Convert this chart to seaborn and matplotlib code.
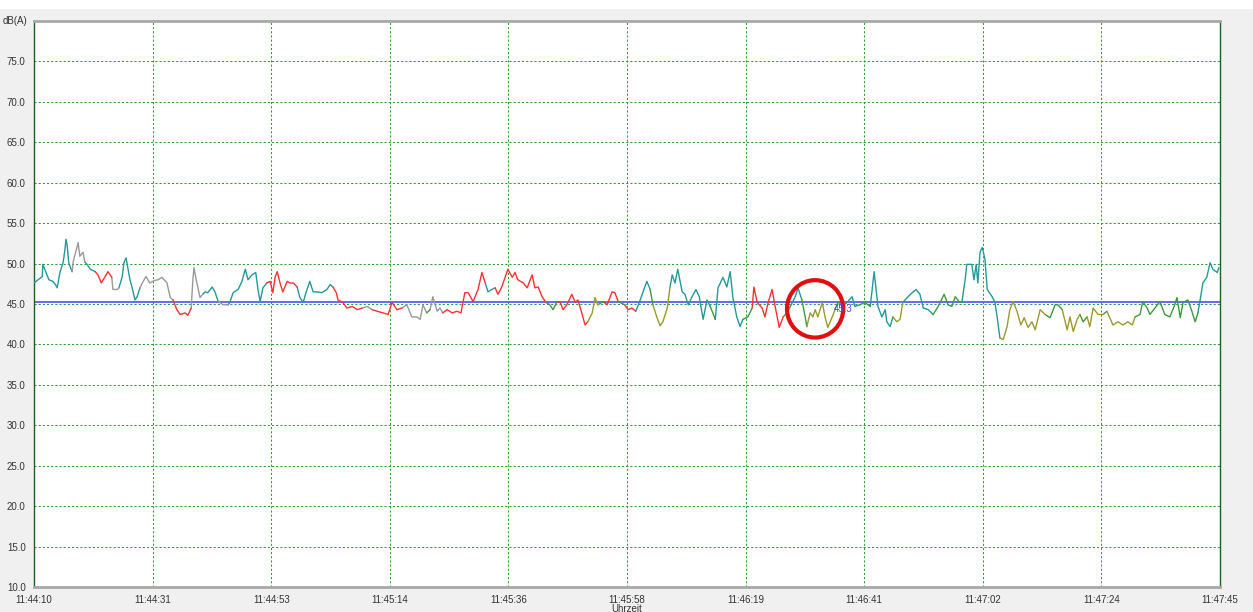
import numpy as np
import pandas as pd
import matplotlib
matplotlib.use("Agg")
import matplotlib.pyplot as plt
from matplotlib.patches import Ellipse, Rectangle
import seaborn as sns

# elapsed time in seconds since 11:44:10 and measured level in dB(A)
t_s = [
    0.0, 1.5, 1.6, 2.7, 3.4, 3.8, 4.2, 4.7, 5.3, 5.6,
    5.8, 6.0, 6.3, 6.9, 7.1, 8.0, 8.3, 8.9, 9.2, 9.6,
    10.2, 11.1, 11.6, 12.2, 12.9, 13.4, 14.1, 14.3, 15.1, 15.4,
    16.0, 16.3, 16.7, 17.0, 17.4, 17.8, 18.3, 18.7, 19.2, 19.8,
    20.3, 21.0, 21.8, 22.5, 23.2, 24.1, 24.7, 25.2, 25.9, 26.5,
    27.4, 27.9, 28.5, 28.8, 29.0, 29.4, 30.1, 30.6, 31.0, 31.5,
    32.3, 32.8, 33.4, 34.3, 35.2, 35.5, 36.1, 37.0, 37.7, 38.3,
    38.8, 39.5, 40.2, 40.6, 41.0, 41.5, 42.2, 42.8, 43.3, 43.7,
    44.1, 44.6, 45.1, 45.9, 46.4, 47.0, 47.7, 48.2, 48.8, 49.3,
    50.0, 50.6, 51.3, 52.2, 53.1, 53.7, 54.2, 54.8, 55.1, 56.0,
    56.7, 57.7, 58.6, 59.5, 60.4, 61.3, 62.2, 63.3, 64.2, 64.9,
    65.8, 66.7, 67.6, 68.5, 69.4, 70.0, 70.5, 71.2, 71.8, 72.3,
    73.1, 73.6, 74.1, 74.9, 75.8, 76.7, 77.4, 78.1, 78.7, 79.6,
    80.5, 81.2, 81.8, 82.3, 83.0, 83.6, 84.1, 84.8, 85.4, 85.9,
    86.7, 87.2, 87.7, 88.7, 89.4, 90.3, 90.8, 91.4, 92.1, 92.8,
    93.5, 94.1, 94.8, 95.4, 95.9, 96.6, 97.5, 98.1, 98.6, 99.3,
    99.9, 100.4, 101.2, 101.7, 102.2, 103.2, 103.9, 104.8, 105.3, 105.9,
    106.2, 107.1, 107.7, 108.4, 109.1, 109.9, 110.4, 111.1, 111.7, 112.2,
    112.9, 113.5, 114.0, 114.8, 115.3, 115.7, 116.2, 116.7, 117.5, 118.0,
    118.6, 119.3, 120.0, 120.6, 121.3, 122.0, 122.6, 123.5, 124.0, 124.9,
    125.6, 126.2, 126.7, 127.4, 128.0, 128.5, 129.4, 130.2, 130.5, 131.1,
    132.0, 132.5, 133.1, 133.8, 134.3, 135.1, 135.8, 136.5, 137.1, 138.0,
    138.5, 139.2, 139.8, 140.1, 140.7, 141.2, 141.6, 142.1, 142.9, 143.4,
    143.9, 144.7, 145.2, 145.8, 146.5, 147.4, 148.3, 148.8, 149.7, 150.6,
    151.2, 151.6, 152.3, 153.0, 153.7, 154.3, 154.6, 155.2, 155.7, 156.4,
    157.0, 157.5, 158.3, 159.2, 159.9, 160.6, 161.2, 162.1, 163.0, 163.9,
    165.0, 165.7, 166.4, 167.0, 167.7, 168.2, 168.8, 169.1, 170.0, 170.4,
    170.8, 171.1, 171.5, 171.9, 172.4, 172.8, 173.7, 174.2, 174.6, 175.1,
    175.7, 176.4, 176.9, 177.5, 178.2, 178.9, 179.5, 180.2, 180.9, 181.5,
    182.4, 183.3, 184.2, 185.1, 185.6, 186.4, 187.3, 187.8, 188.4, 189.1,
    189.6, 190.2, 190.9, 191.4, 192.0, 192.9, 193.8, 194.5, 195.6, 196.5,
    197.4, 198.3, 199.1, 199.6, 200.5, 201.0, 201.8, 202.3, 203.2, 204.1,
    205.0, 205.9, 206.8, 207.2, 207.8, 208.3, 209.2, 209.9, 210.5, 211.0,
    211.4, 211.9, 212.6, 213.2, 213.7, 214.5, 214.8,
]
level_db = [
    47.6, 48.4, 49.9, 48.0, 47.8, 47.5, 47.0, 48.9, 50.2, 51.7,
    53.0, 52.3, 50.1, 49.0, 50.2, 52.6, 50.9, 51.4, 50.2, 49.9,
    49.3, 49.0, 48.6, 47.6, 48.4, 49.0, 48.3, 46.8, 46.8, 47.0,
    48.4, 50.1, 50.7, 49.5, 48.0, 47.0, 45.5, 45.9, 47.0, 47.8,
    48.4, 47.6, 47.9, 48.0, 48.3, 47.6, 45.8, 45.5, 44.3, 43.7,
    43.9, 43.6, 44.5, 48.0, 49.5, 48.0, 45.8, 46.2, 46.5, 46.4,
    47.1, 46.5, 45.3, 44.9, 44.9, 45.2, 46.4, 46.8, 47.8, 49.3,
    48.0, 48.6, 48.9, 46.8, 45.3, 47.0, 47.6, 47.8, 46.4, 48.3,
    49.0, 47.6, 46.5, 47.8, 47.6, 47.6, 47.1, 45.8, 45.2, 46.4,
    47.8, 46.5, 46.5, 46.4, 46.8, 47.4, 47.1, 46.4, 45.5, 45.2,
    44.5, 44.7, 44.3, 44.5, 44.7, 44.3, 44.1, 43.9, 43.7, 45.2,
    44.3, 44.5, 44.9, 43.4, 43.4, 43.1, 44.9, 43.9, 44.3, 45.9,
    44.1, 44.5, 43.9, 44.3, 43.9, 44.1, 43.9, 46.4, 46.4, 45.3,
    46.8, 48.9, 47.6, 46.5, 46.8, 47.0, 46.2, 47.1, 48.3, 49.3,
    48.3, 48.9, 48.0, 47.6, 47.0, 48.6, 47.0, 47.1, 45.9, 45.2,
    44.9, 44.3, 45.3, 45.2, 44.3, 44.9, 46.2, 45.2, 45.5, 43.9,
    42.4, 42.8, 43.9, 45.8, 44.9, 45.3, 44.9, 46.5, 46.4, 45.3,
    45.2, 44.9, 44.3, 44.5, 44.1, 45.5, 46.5, 47.8, 46.8, 44.9,
    43.4, 42.3, 42.8, 44.5, 47.1, 48.6, 47.6, 49.3, 46.5, 46.2,
    44.9, 45.9, 46.8, 45.9, 43.1, 45.5, 44.7, 43.1, 47.0, 48.3,
    47.1, 49.0, 45.8, 43.4, 42.2, 43.1, 43.4, 44.5, 47.1, 45.2,
    44.5, 43.4, 45.2, 46.8, 44.9, 42.1, 43.4, 43.9, 44.7, 45.9,
    47.0, 45.5, 43.4, 42.2, 43.9, 43.4, 44.3, 43.4, 45.2, 43.4,
    42.1, 43.4, 44.3, 45.3, 44.7, 45.2, 45.9, 44.7, 44.9, 45.2,
    44.9, 44.7, 49.0, 44.7, 43.4, 44.3, 42.8, 42.2, 43.4, 42.8,
    43.1, 45.2, 45.8, 46.4, 46.8, 46.2, 44.5, 44.3, 43.7, 44.7,
    46.2, 44.9, 44.7, 45.9, 45.3, 45.2, 48.0, 49.9, 49.9, 48.0,
    49.9, 47.6, 51.4, 52.0, 50.5, 46.8, 45.9, 45.2, 43.4, 40.8,
    40.6, 42.2, 44.3, 45.3, 44.1, 42.4, 43.3, 42.1, 42.8, 41.8,
    44.3, 43.7, 43.3, 44.9, 44.9, 44.3, 41.8, 43.4, 41.6, 43.1,
    43.7, 42.8, 43.4, 42.2, 44.5, 43.7, 43.7, 44.1, 42.4, 42.8,
    42.4, 42.8, 42.4, 43.4, 43.7, 45.3, 44.5, 43.7, 44.5, 45.3,
    43.7, 43.4, 44.9, 45.8, 43.3, 45.2, 45.5, 44.1, 42.8, 43.9,
    45.5, 47.6, 48.3, 50.1, 49.3, 48.9, 49.5,
]
# colour class of the trace leading to each point
# T teal, G grey, R red, N green, O olive
color_cls = list(
    "TTTTTTTTTT" "TTTTGGGGGT" "TTRRRRRGGG" "TTTTTTTTTG" "GGGGGGGGRR"
    "RRRGGGGGTT" "TTTGGTTTTT" "TTTTTTTRRR" "RRRRRRRTTT" "TTTTTTTRRR"
    "RRRRGGRRRR" "RRGGGGGGNG" "GGGRRRRRRR" "RRRTTTRRRR" "RRRRRRRRRR"
    "NNNRRRRRRR" "RROOONRRRR" "NNRRRTTTTN" "OOOOOTTTTT" "TTTTTTTNTT"
    "TTTTTTNNRR" "RRRRRRRNNT" "TTNNOOOOOO" "OOONNNTTTN" "NNTTTTTTTO"
    "OOTTTTTTTN" "NNNNNNTTTT" "TTTTTTTTTT" "OOOOOOOOOO" "OONNNNOOOO"
    "ONNOOOONOO" "OOOONNNNNN" "NNNNNNNNNN" "TTTTTTT"
)

tick_labels = ["11:44:10", "11:44:31", "11:44:53", "11:45:14", "11:45:36",
               "11:45:58", "11:46:19", "11:46:41", "11:47:02", "11:47:24", "11:47:45"]
duration_s = 215
mean_level = 45.3
y_ticks = np.arange(10, 80, 5)

palette = {"T": "#22999b", "G": "#999999", "R": "#ff3030",
           "N": "#3c9a3c", "O": "#9c9a2c"}

# split trace into runs of the same colour, each run starts at the previous point
rows = []
seg = 0
prev = None
for i in range(1, len(t_s)):
    c = color_cls[i]
    if c != prev:
        seg += 1
        rows.append((seg, c, t_s[i - 1], level_db[i - 1]))
        prev = c
    rows.append((seg, c, t_s[i], level_db[i]))
df = pd.DataFrame(rows, columns=["seg", "cls", "t", "db"])

sns.set_style("white")
plt.rcParams["font.family"] = ["Liberation Sans", "DejaVu Sans"]

fig = plt.figure(figsize=(12.53, 6.12), dpi=100, facecolor="#f0f0f0")
fig.patches.append(Rectangle((0, 0.987), 1, 0.013, transform=fig.transFigure,
                             color="white", zorder=0))
ax = fig.add_axes([34 / 1253, 1 - 587 / 612, 1186 / 1253, 566 / 612])
ax.set_facecolor("white")

sns.lineplot(data=df, x="t", y="db", hue="cls", units="seg", estimator=None,
             palette=palette, legend=False, sort=False, lw=1.0, ax=ax, zorder=3)

ax.axhline(mean_level, color="#5a5aff", lw=1.3, zorder=2)
ax.text(145.0, mean_level - 0.3, f"{mean_level:.1f}", color="#4a4aff",
        fontsize=7, va="top", ha="left", zorder=6)

# red marking circle
ax.add_patch(Ellipse((141.6, 44.4), 10.2, 7.1, fill=False, ec="#e01010",
                     lw=3, zorder=5))

xt = np.linspace(0, duration_s, len(tick_labels))
ax.set_xlim(0, duration_s)
ax.set_ylim(10, 80)
ax.set_xticks(xt)
ax.set_xticklabels(tick_labels)
ax.set_yticks(y_ticks)
ax.set_yticklabels([f"{v:.1f}" for v in y_ticks])
ax.tick_params(length=0, labelsize=7, colors="#333333", pad=6)
ax.set_xlabel("Uhrzeit", fontsize=7, color="#333333", labelpad=-1)
ax.set_ylabel("")
ax.text(-0.006, 1.0, "dB(A)", transform=ax.transAxes, fontsize=7,
        color="#333333", ha="right", va="center")

ax.grid(True, color="#2aa02a", ls=(0, (2, 2)), lw=0.75)
for s in ["left", "right"]:
    ax.spines[s].set_color("#1f5f1f")
    ax.spines[s].set_linewidth(1.0)
ax.spines["top"].set_color("#a8a8a8")
ax.spines["top"].set_linewidth(2)
ax.spines["bottom"].set_color("#a8a8a8")
ax.spines["bottom"].set_linewidth(2)

fig.savefig("out.png", dpi=100, facecolor=fig.get_facecolor())
